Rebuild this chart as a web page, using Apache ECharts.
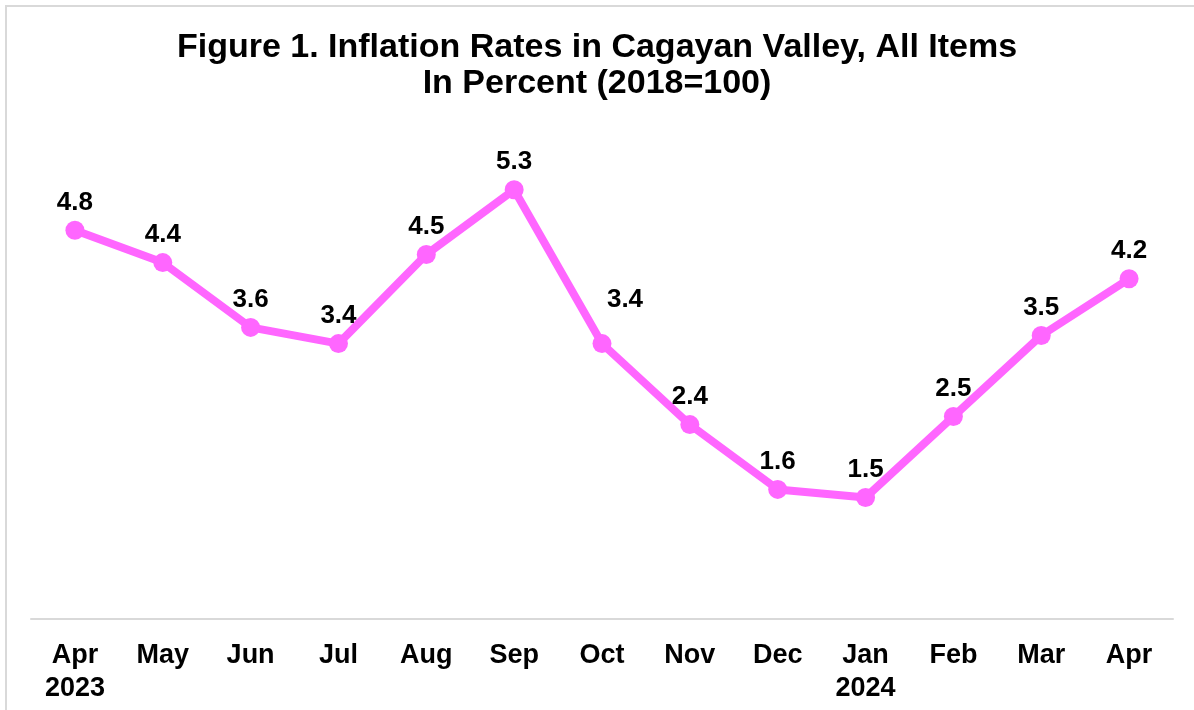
<!DOCTYPE html>
<html>
<head>
<meta charset="utf-8">
<script src="https://cdn.jsdelivr.net/npm/echarts@6/dist/echarts.min.js"></script>
<style>
html, body { margin: 0; padding: 0; background: #fff; }
#chart { width: 1194px; height: 710px; }
</style>
</head>
<body>
<div id="chart"></div>
<script>
// months on the x axis (year shown under first Apr and Jan)
var months = ['Apr\n2023', 'May', 'Jun', 'Jul', 'Aug', 'Sep', 'Oct', 'Nov', 'Dec', 'Jan\n2024', 'Feb', 'Mar', 'Apr'];
// inflation rate, percent
var rates = [4.8, 4.4, 3.6, 3.4, 4.5, 5.3, 3.4, 2.4, 1.6, 1.5, 2.5, 3.5, 4.2];

var lineColor = '#ff66ff';

var seriesData = rates.map(function (v, i) {
	if (i === 6) {
		// Oct label sits up and to the right of its point
		return { value: v, label: { offset: [23, -16] } };
	}
	return v;
});

var chart = echarts.init(document.getElementById('chart'));
chart.setOption({
	backgroundColor: '#ffffff',
	animation: false,
	title: {
		text: 'Figure 1. Inflation Rates in Cagayan Valley, All Items\nIn Percent (2018=100)',
		left: 'center',
		top: 25,
		textStyle: {
			fontFamily: 'Liberation Sans, Arial, sans-serif',
			fontWeight: 'bold',
			fontSize: 34,
			lineHeight: 36,
			color: '#000'
		}
	},
	graphic: [{
		type: 'rect',
		shape: { x: 6, y: 6, width: 1200, height: 720 },
		style: { fill: 'none', stroke: '#d9d9d9', lineWidth: 2 },
		silent: true
	}],
	grid: {
		left: 31,
		right: 21,
		top: 133,
		bottom: 91
	},
	xAxis: {
		type: 'category',
		data: months,
		boundaryGap: true,
		axisLine: { lineStyle: { color: '#d9d9d9', width: 2 } },
		axisTick: { show: false },
		axisLabel: {
			interval: 0,
			margin: 20,
			verticalAlign: 'top',
			fontFamily: 'Liberation Sans, Arial, sans-serif',
			fontWeight: 'bold',
			fontSize: 27,
			lineHeight: 33,
			color: '#000'
		}
	},
	yAxis: {
		type: 'value',
		min: 0,
		max: 6,
		show: false,
		splitLine: { show: false }
	},
	series: [{
		type: 'line',
		data: seriesData,
		symbol: 'circle',
		symbolSize: 19,
		lineStyle: { color: lineColor, width: 8 },
		itemStyle: { color: lineColor },
		label: {
			show: true,
			position: 'top',
			distance: 5,
			formatter: function (p) { return p.value.toFixed(1); },
			fontFamily: 'Liberation Sans, Arial, sans-serif',
			fontWeight: 'bold',
			fontSize: 26,
			color: '#000'
		}
	}]
});
</script>
</body>
</html>
